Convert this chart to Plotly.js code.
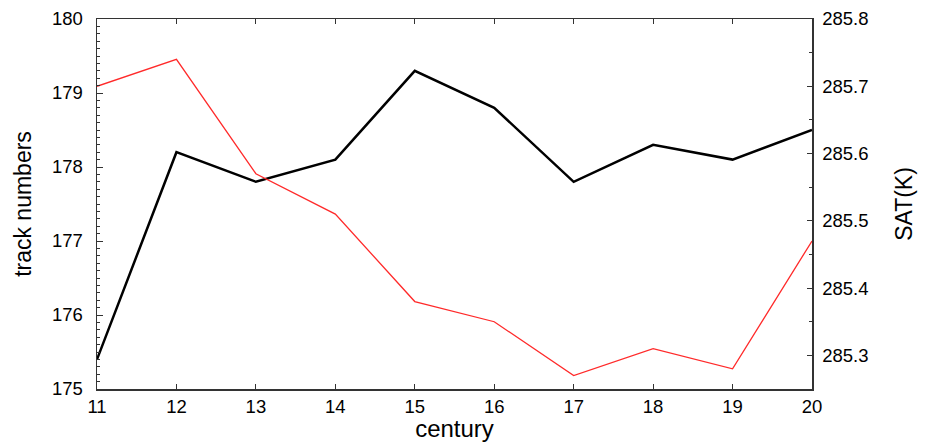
<!DOCTYPE html>
<html>
<head>
<meta charset="utf-8">
<script src="https://cdn.plot.ly/plotly-3.0.1.min.js"></script>
<style>html,body{margin:0;padding:0;background:#fff;}#chart{width:931px;height:442px;}</style>
</head>
<body>
<div id="chart"></div>
<script>
const century = [11, 12, 13, 14, 15, 16, 17, 18, 19, 20];
const trackNumbers = [175.4, 178.2, 177.8, 178.1, 179.3, 178.8, 177.8, 178.3, 178.1, 178.5];
const sat = [285.70, 285.74, 285.57, 285.51, 285.38, 285.35, 285.27, 285.31, 285.28, 285.47];
const xTicks = [11, 12, 13, 14, 15, 16, 17, 18, 19, 20];
const leftTicks = [175, 176, 177, 178, 179, 180];
const rightTicks = [285.3, 285.4, 285.5, 285.6, 285.7, 285.8];

const font = {family: 'Liberation Sans, Arial, sans-serif', color: '#000'};
const axisColor = '#333';

const traces = [
  {x: century, y: trackNumbers, type: 'scatter', mode: 'lines', name: 'track numbers',
   line: {color: '#000', width: 2.5}, yaxis: 'y'},
  {x: century, y: sat, type: 'scatter', mode: 'lines', name: 'SAT',
   line: {color: '#ff2a2a', width: 1.3}, yaxis: 'y2'}
];

const layout = {
  width: 931, height: 442,
  margin: {l: 97, r: 119, t: 19, b: 53},
  paper_bgcolor: '#fff', plot_bgcolor: '#fff',
  showlegend: false,
  font: Object.assign({size: 18}, font),
  xaxis: {
    range: [11, 20], tickvals: xTicks, ticktext: xTicks.map(String),
    showgrid: false, zeroline: false, showline: true, linecolor: axisColor, linewidth: 1.5,
    mirror: 'ticks', ticks: 'inside', ticklen: 5, tickcolor: axisColor, tickwidth: 1,
    tickfont: Object.assign({size: 18.5}, font),
    title: {text: 'century', font: Object.assign({size: 24}, font), standoff: 2}
  },
  yaxis: {
    range: [175, 180], tickvals: leftTicks, ticktext: leftTicks.map(String),
    showgrid: false, zeroline: false, showline: true, linecolor: axisColor, linewidth: 1.5,
    ticks: 'inside', ticklen: 6, tickcolor: axisColor, tickwidth: 1,
    ticklabelstandoff: 9,
    minor: {dtick: 0.1, tick0: 175, ticks: 'inside', ticklen: 3, tickcolor: axisColor, tickwidth: 1, showgrid: false},
    tickfont: Object.assign({size: 18.5}, font),
    title: {text: 'track numbers', font: Object.assign({size: 23}, font), standoff: 14}
  },
  yaxis2: {
    overlaying: 'y', side: 'right',
    range: [285.25, 285.8], tickvals: rightTicks, ticktext: rightTicks.map(v => v.toFixed(1)),
    showgrid: false, zeroline: false, showline: true, linecolor: axisColor, linewidth: 1.5,
    ticks: 'inside', ticklen: 5, tickcolor: axisColor, tickwidth: 1,
    ticklabelstandoff: 5,
    minor: {dtick: 0.05, tick0: 285.25, ticks: 'inside', ticklen: 3, tickcolor: axisColor, tickwidth: 1, showgrid: false},
    tickfont: Object.assign({size: 18.5}, font),
    title: {text: 'SAT(K)', font: Object.assign({size: 23}, font), standoff: 28}
  }
};

Plotly.newPlot('chart', traces, layout, {displayModeBar: false, staticPlot: true});
</script>
</body>
</html>
